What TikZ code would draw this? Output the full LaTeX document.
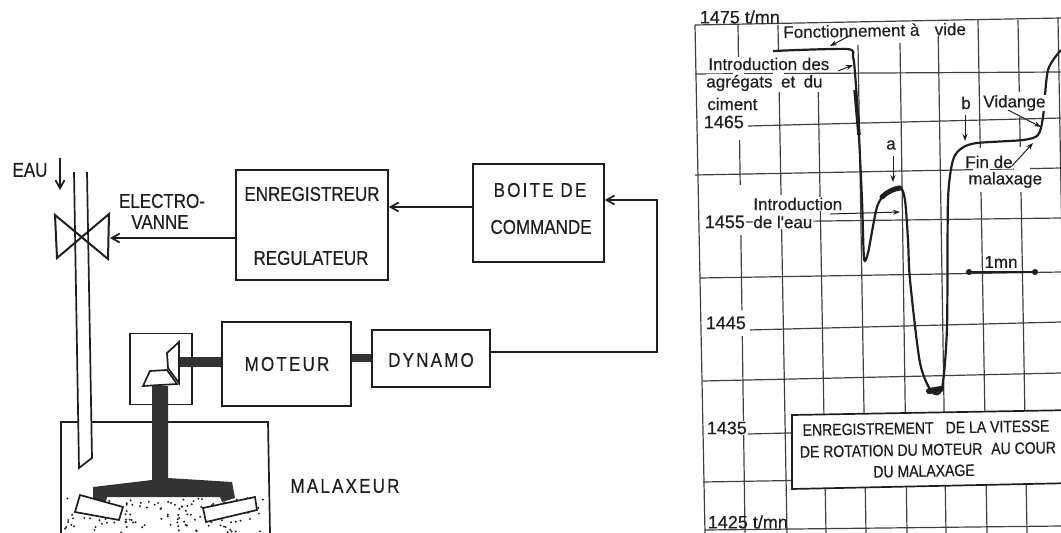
\documentclass[tikz,border=0pt]{standalone}
\usepackage{fontspec}
\setmainfont{Liberation Sans}
\newfontfamily\lettrage[FakeStretch=0.85,FakeBold=0.5]{Liberation Sans}
\newfontfamily\espace[FakeStretch=0.85,FakeBold=0.5,LetterSpace=11]{Liberation Sans}
\newfontfamily\manuscrit[FakeBold=0.4]{Liberation Sans}
\usepackage{tikz}
\usetikzlibrary{positioning,arrows.meta,calc}
\definecolor{encre}{HTML}{1E1E1E}
\definecolor{arbre}{HTML}{333333}

\begin{document}
\begin{tikzpicture}[
  x=1pt,y=-1pt,
  line width=1.7pt,
  draw=encre,
  every node/.style={text=encre,font=\lettrage\fontsize{20}{22}\selectfont},
  bloc/.style={draw,inner sep=0pt},
  titre/.style={inner sep=0pt},
  flow/.style={-{Straight Barb[length=8pt,width=9pt]}},
  grille/.style={line width=1.2pt,draw=encre!85},
  courbe/.style={line width=2.2pt},
  repere/.style={-{Stealth[length=7pt,width=5pt]},line width=1pt},
  echelle/.style={fill=white,inner sep=1pt,font=\manuscrit\fontsize{18}{20}\selectfont},
  note/.style={fill=white,inner sep=0.5pt,font=\manuscrit\fontsize{17}{19}\selectfont},
  legende/.style={inner sep=0pt,font=\lettrage\fontsize{16.5}{19}\selectfont}
]
\clip (0,0) rectangle (1061,533);
\useasboundingbox (0,0) rectangle (1061,533);

% ==================================================
% schema de l'installation
% ==================================================

% blocs
\node[bloc,minimum width=152pt,minimum height=110pt] (enreg) at (312,225) {};
\node[bloc,minimum width=131pt,minimum height=98pt] (boite) at (538.5,213) {};
\node[bloc,minimum width=129pt,minimum height=84pt] (moteur) at (286.5,364) {};
\node[bloc,minimum width=118pt,minimum height=57pt] (dynamo) at (431,358.5) {};
\node[bloc,minimum width=62pt,minimum height=71pt] (renvoi) at (161,369) {};

% textes des blocs
\node[titre] (tenreg) at (312,194) {ENREGISTREUR};
\node[titre] (tregul) at (311,258) {REGULATEUR};
\node[titre,font=\espace\fontsize{20}{22}\selectfont] (tboite) at (540,190) {BOITE DE};
\node[titre] (tcomm) at (541,227) {COMMANDE};
\node[titre,font=\espace\fontsize{20}{22}\selectfont] (tmoteur) at (287,364) {MOTEUR};
\node[titre,font=\espace\fontsize{20}{22}\selectfont] (tdynamo) at (431,360) {DYNAMO};
\node[titre,font=\espace\fontsize{20}{22}\selectfont] (tmalax) at (345,486) {MALAXEUR};
\node[titre] (tvanne1) at (162,201) {ELECTRO-};
\node[titre] (tvanne2) at (160,222) {VANNE};
\node[titre] (teau) at (30,170) {EAU};

% cuve et granulats
\draw (61,533) -- (61,422) -- (268,422) -- (270,533);
\pgfmathsetseed{11}
\foreach \i in {1,...,130}{
  \pgfmathsetmacro{\px}{65+rnd*200}
  \pgfmathsetmacro{\py}{498+rnd*35}
  \fill[encre] (\px,\py) circle (1.1pt);
}

% conduite d'eau
\fill[white] (74,172) -- (79,468) -- (92,458) -- (87,172) -- cycle;
\draw (74,172) -- (79,468) -- (92,458) -- (87,172);
\draw[flow,line width=1.8pt] (60,158) -- (60,190);

% electrovanne
\coordinate (vanne) at (110,238);
\draw[line width=2pt] (55,215) -- (108,259) -- (109,214) -- (57,258) -- cycle;

% transmissions
\draw[arbre,line width=10pt] (180,362) -- (moteur.west |- 0,362);
\draw[arbre,line width=8pt] (moteur.east |- 0,358) -- (dynamo.west |- 0,358);
\fill[arbre]
  (152,386) -- (168,386) -- (168,478) -- (232,482) -- (235,498) -- (222,502)
  -- (220,497) -- (107,497) -- (105,505) -- (93,503) -- (93,487) -- (152,480) -- cycle;
\draw[fill=white] (167,353) -- (179,342) -- (179,383) -- (168,368) -- cycle;
\draw[fill=white] (143,386) -- (150,371) -- (167,370) -- (177,384) -- cycle;

% pales
\draw[fill=white] (80,495) -- (123,507) -- (119,520) -- (75,512) -- cycle;
\draw[fill=white] (203,508) -- (255,497) -- (257,510) -- (206,522) -- cycle;

% liaisons
\coordinate (coude) at (657,200);
\draw[flow] ([yshift=-13pt]enreg.west) -- (vanne);
\draw[flow] (boite.west |- 0,207) -- (enreg.east |- 0,207);
\draw[flow] (dynamo.east |- 0,352) -| (coude) -- (boite.east |- coude);

% ==================================================
% enregistrement de la vitesse
% ==================================================

% grille : verticales
\foreach \xa/\xb/\t in {695/705/25,738/745/25,778/787/25,818/826/78,858/866/45,
    900/907/43,938/946/22,978/987/20,1018/1027/20,1058/1067/18}{
  \draw[grille] (\xa,\t) -- (\xb,533);
}
% grille : horizontales
\foreach \ya/\yb/\xs in {25/18/695,74/72/695,126/118/748,175/168/695,222/218/745,
    278/272/700,330/322/748,381/373/703,434/426/748,482/476/703,530/526/705}{
  \draw[grille] (\xs,\ya) -- (1061,\yb);
}
% coupures de la grille
\fill[white] (733,59) rectangle (744,140);
\fill[white] (773,51) rectangle (784,92);
\fill[white] (774,195) rectangle (785,225);
\fill[white] (973,148) rectangle (990,192);
\fill[white] (1014,92) rectangle (1028,117);
\fill[white] (1014,147) rectangle (1030,192);
\fill[white] (733,185) rectangle (746,235);
\fill[white] (738,310) rectangle (750,336);

% courbe
\draw[courbe] plot[smooth,tension=0.45] coordinates {
  (773,51) (847,49) (853,57) (855,73) (858,117) (862,200) (864,258) (868,253)
  (877,207) (887,192) (900,187) (905,200) (908,240) (910,280) (920,363) (932,392)
  (942,388) (947,327) (948,200) (953,160) (962,148) (977,143) (1023,140) (1038,135)
  (1043,117) (1048,70) (1061,50)};
\draw[line width=5pt,line cap=round] (882,197) .. controls (887,192) and (893,189) .. (900,188);
\draw[line width=3.5pt] (855,90) -- (859,135);
\draw[line width=6pt,line cap=round] (929,391) -- (941,389);

% echelle
\node[echelle,anchor=west,fill=none] (v1475) at (698,17) {1475 t/mn};
\node[echelle,anchor=west] (v1465) at (702,122) {1465};
\node[echelle,anchor=west] (v1455) at (703,222) {1455};
\node[echelle,anchor=west] (v1445) at (704,323) {1445};
\node[echelle,anchor=west] (v1435) at (705,428) {1435};
\node[echelle,anchor=west,fill=none] (v1425) at (706,522) {1425 t/mn};

% annotations
\node[note,anchor=west,rotate=1] (nvide) at (782,32) {Fonctionnement à\hspace{0.9em}vide};
\node[note,anchor=west] (nagr1) at (707,64) {Introduction des};
\node[note,anchor=west] (nagr2) at (705,83) {agrégats\hspace{0.5em}et\hspace{0.5em}du};
\node[note,anchor=west] (nagr3) at (706,104) {ciment};
\node[note,anchor=west] (neau1) at (752,204) {Introduction};
\node[note,anchor=west] (neau2) at (752,222) {de l'eau};
\node[note,anchor=center] (na) at (891,145) {a};
\node[note,anchor=center] (nb) at (966,103) {b};
\node[note,anchor=west] (nvid) at (982,103) {Vidange};
\node[note,anchor=west] (nfin1) at (964,162) {Fin de};
\node[note,anchor=west] (nfin2) at (967,180) {malaxage};
\node[note,anchor=center] (nmn) at (1001,262) {1mn};

% reperes
\coordinate (pvide) at (830,46);
\coordinate (pagr) at (853,65);
\coordinate (pa) at (893,182);
\coordinate (pb) at (965,141);
\coordinate (pvid) at (1041,127);
\coordinate (pfin) at (1033,143);
\coordinate (peau) at (900,212);
\coordinate (mna) at (966,272);
\coordinate (mnb) at (1038,272);
\draw[repere] (851,35) -- (pvide);
\draw[repere] (838,71) -- (pagr);
\draw[repere] (893,156) -- (pa);
\draw[repere] (965,115) -- (pb);
\draw[repere] (1008,110) -- (pvid);
\draw[repere] (1012,166) -- (pfin);
\draw[repere] (830,214) -- (peau);
\draw[{Circle[length=6pt]}-{Circle[length=6pt]},line width=1.4pt] (mna) -- (mnb);

% cartouche
\draw[fill=white] (792,415) -- (1075,410) -- (1075,483) -- (792,489) -- cycle;
\node[legende,rotate=1] (leg1) at (926,428) {ENREGISTREMENT\hspace{0.5em} DE LA VITESSE};
\node[legende,anchor=west,rotate=1] (leg2) at (799,452) {DE ROTATION DU MOTEUR\hspace{0.3em} AU COUR};
\node[legende,rotate=1] (leg3) at (924,471) {DU MALAXAGE};

\end{tikzpicture}
\end{document}
